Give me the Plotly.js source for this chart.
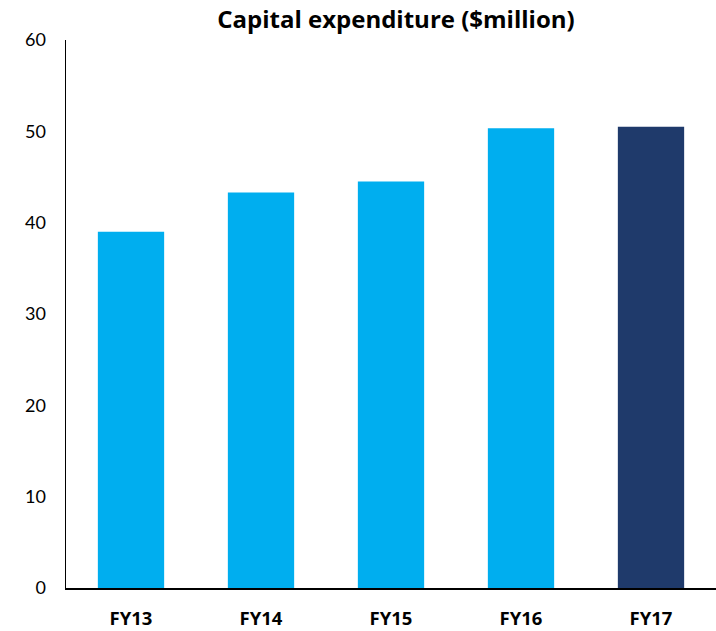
<!DOCTYPE html>
<html><head><meta charset="utf-8">
<script src="https://cdn.plot.ly/plotly-3.0.1.min.js"></script>
<style>html,body{margin:0;padding:0;background:#fff}#c{width:716px;height:631px}</style>
</head><body><div id="c"></div>
<script>
const categories = ["FY13", "FY14", "FY15", "FY16", "FY17"];
const capex = [39.0, 43.3, 44.5, 50.35, 50.5];
const barColors = ["#00AEEF", "#00AEEF", "#00AEEF", "#00AEEF", "#1F3A6B"];
const yTicks = [0, 10, 20, 30, 40, 50, 60];

Plotly.newPlot("c", [{
  type: "bar", x: categories, y: capex,
  marker: {color: barColors}, hoverinfo: "x+y"
}], {
  width: 716, height: 631,
  margin: {l: 66, r: 0, t: 40, b: 42.5},
  paper_bgcolor: "#fff", plot_bgcolor: "#fff",
  bargap: 0.49,
  showlegend: false,
  title: {text: "<b>Capital expenditure ($million)</b>", x: 0.553, xanchor: "center", y: 0.969, yanchor: "middle",
    font: {family: "'Open Sans', sans-serif", size: 24, color: "#000"}},
  xaxis: {showline: true, linecolor: "#000", linewidth: 1.5, showgrid: false, ticks: "",
    ticklabelstandoff: 13,
    tickfont: {family: "'Open Sans', sans-serif", size: 18.5, color: "#000", weight: "bold"}},
  yaxis: {range: [0, 60], tickvals: yTicks, showline: true, linecolor: "#000", linewidth: 1.5,
    showgrid: false, zeroline: false, ticks: "", ticklabelstandoff: 15,
    tickfont: {family: "Lato, 'Open Sans', sans-serif", size: 18, color: "#000"}}
}, {staticPlot: true});
</script></body></html>
